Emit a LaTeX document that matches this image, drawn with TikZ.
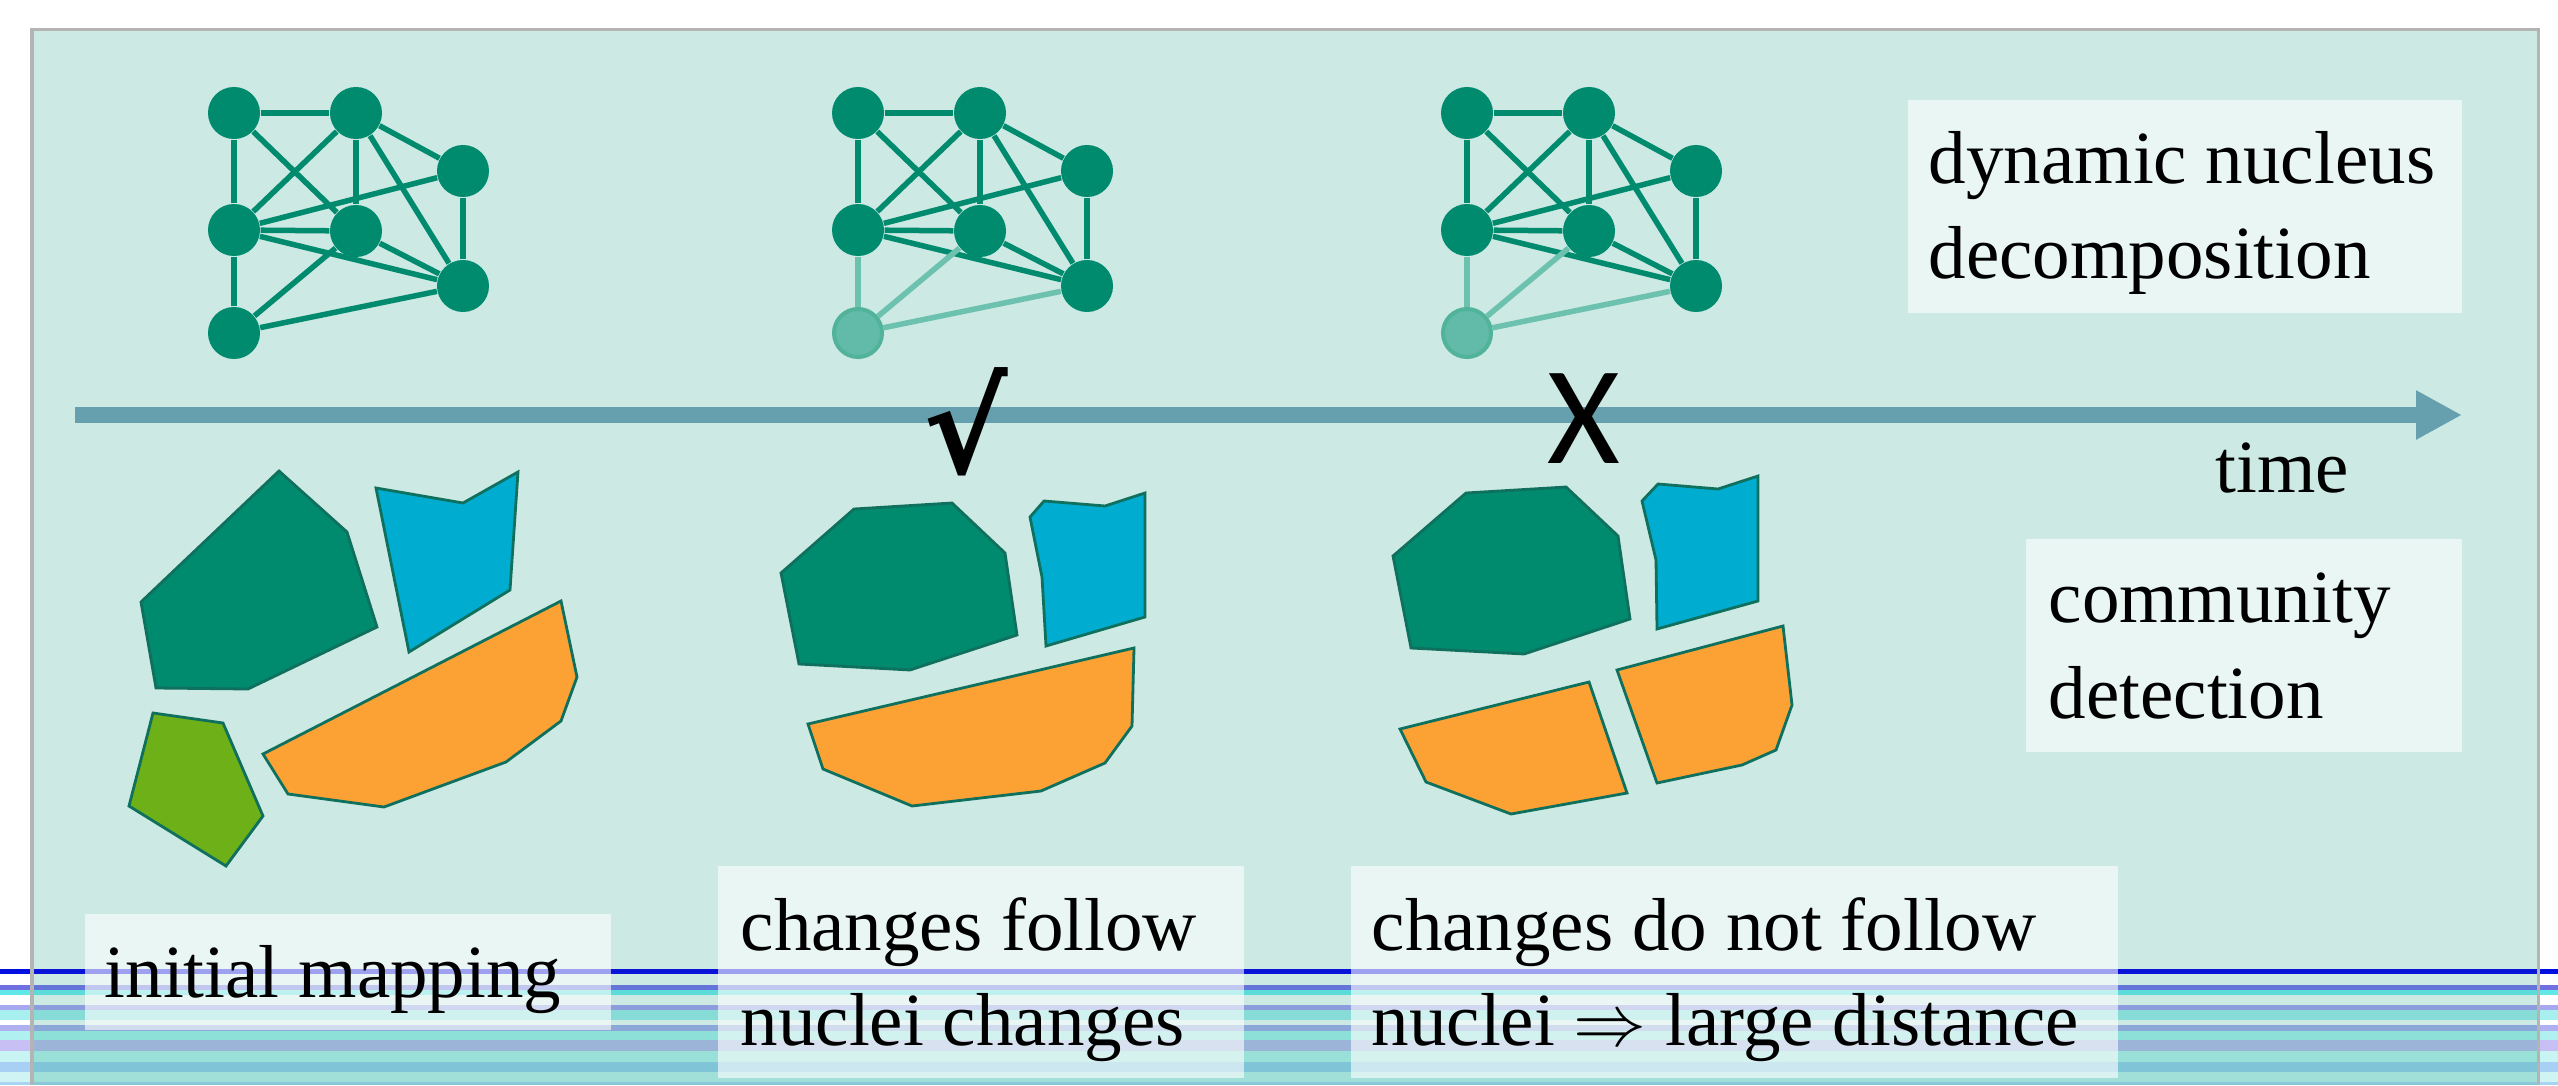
\documentclass[tikz,border=0pt]{standalone}
\usepackage{fontspec}
\setmainfont{Liberation Serif}
\newfontfamily\carlito{Carlito}
\newfontfamily\dejavub{DejaVu Sans Bold}
\usetikzlibrary{arrows.meta}
\definecolor{bg}{HTML}{CCE9E3}
\definecolor{frameg}{HTML}{B4B4B4}
\definecolor{nodeg}{HTML}{008B6E}
\definecolor{fadeg}{HTML}{62BBA8}
\definecolor{fadeb}{HTML}{52B39B}
\definecolor{fadee}{HTML}{6CC2AE}
\definecolor{timec}{HTML}{669FAE}
\definecolor{cdark}{HTML}{008A6E}
\definecolor{cblue}{HTML}{00ACD0}
\definecolor{clight}{HTML}{6EB017}
\definecolor{corange}{HTML}{FCA134}
\definecolor{cedge}{HTML}{10705E}
% stripes: inside / outside colours
\definecolor{sai}{HTML}{0A14D8}\definecolor{sao}{HTML}{0010E0}
\definecolor{sbi}{HTML}{6474D8}\definecolor{sbo}{HTML}{7070E0}
\definecolor{sci}{HTML}{5CDCD8}\definecolor{sco}{HTML}{60E8E8}
\definecolor{sdi}{HTML}{8C9CDC}\definecolor{sdo}{HTML}{A8A8F0}
\definecolor{sei}{HTML}{88DCD8}\definecolor{seo}{HTML}{A8F0F0}
\definecolor{sfi}{HTML}{8CA8D8}\definecolor{sfo}{HTML}{B0B0F0}
\definecolor{sgi}{HTML}{8CE0D8}\definecolor{sgo}{HTML}{B0F0F0}
\definecolor{shi}{HTML}{9CB4D8}\definecolor{sho}{HTML}{C8C0F4}
\definecolor{sii}{HTML}{98E0D8}\definecolor{sio}{HTML}{C8F4F4}
\definecolor{sji}{HTML}{80C4D8}\definecolor{sjo}{HTML}{A8D0F4}
\definecolor{ski}{HTML}{A0E0D8}\definecolor{sko}{HTML}{D0F4F4}
\definecolor{sli}{HTML}{88C8D8}\definecolor{slo}{HTML}{A8D4F4}
\tikzset{
  gn/.style={circle, fill=nodeg, minimum size=0.52cm, inner sep=0pt},
  gnfade/.style={circle, fill=fadeg, draw=fadeb, line width=0.04cm, minimum size=0.48cm, inner sep=0pt},
  ge/.style={draw=nodeg, line width=0.055cm},
  gefade/.style={draw=fadee, line width=0.055cm},
  comm/.style={draw=cedge, line width=0.028cm, line join=miter},
  txtbox/.style={fill=white, fill opacity=0.6, text opacity=1, inner sep=0pt, draw=none},
  lbl/.style={anchor=base west, inner sep=0pt, font=\fontsize{21.34}{27}\selectfont},
  timeline/.style={draw=timec, line width=0.16cm, -{Triangle[length=0.46cm,width=0.46cm]}}
}
\begin{document}
\begin{tikzpicture}[x=0.01cm,y=-0.01cm]
\useasboundingbox (0,0) rectangle (2558,1085);
% frame background
\fill[bg] (32,30) rectangle (2538,1085);
% stripes
\foreach \ya/\yb/\ci/\co in {969/974/sai/sao, 985/990/sbi/sbo, 990/995/sci/sco,
  1005/1010/sdi/sdo, 1010/1020/sei/seo, 1025/1031/sfi/sfo, 1031/1040/sgi/sgo,
  1040/1051/shi/sho, 1051/1062/sii/sio, 1062/1072/sji/sjo, 1072/1082/ski/sko,
  1082/1085/sli/slo}{
  \fill[\co] (0,\ya) rectangle (32,\yb);
  \fill[\co] (2538,\ya) rectangle (2558,\yb);
  \fill[\ci] (32,\ya) rectangle (2538,\yb);
}
% frame border
\draw[frameg, line width=0.03cm] (32,1085) -- (32,30) -- (2538,30) -- (2538,1085);

% graphs
\foreach \i/\ox in {1/0,2/624,3/1233}{
  \node[gn] (g\i a) at (234+\ox,113) {};
  \node[gn] (g\i b) at (356+\ox,113) {};
  \node[gn] (g\i c) at (463+\ox,171) {};
  \node[gn] (g\i d) at (234+\ox,230) {};
  \node[gn] (g\i e) at (356+\ox,231) {};
  \node[gn] (g\i f) at (463+\ox,286) {};
}
\node[gn] (g1g) at (234,333) {};
\node[gnfade] (g2g) at (858,333) {};
\node[gnfade] (g3g) at (1467,333) {};
\foreach \i in {1,2,3}{
  \foreach \u/\v in {a/b,a/d,a/e,b/d,b/e,b/c,b/f,c/d,c/f,d/e,d/f,e/f}{
    \draw[ge] (g\i\u) -- (g\i\v);
  }
}
\draw[ge] (g1d) -- (g1g);
\draw[ge] (g1e) -- (g1g);
\draw[ge] (g1g) -- (g1f);
\foreach \i in {2,3}{
  \draw[gefade] (g\i d) -- (g\i g);
  \draw[gefade] (g\i e) -- (g\i g);
  \draw[gefade] (g\i g) -- (g\i f);
}

% time axis
\coordinate (tstart) at (75,415);
\coordinate (tend) at (2462,415);
\draw[timeline] (tstart) -- (tend);

% communities, group 1
\draw[comm, fill=cdark] (279,471) -- (347,532) -- (377,627) -- (248,689) -- (156,688) -- (141,602) -- cycle;
\draw[comm, fill=cblue] (376,488) -- (463,503) -- (518,472) -- (510,590) -- (409,652) -- cycle;
\draw[comm, fill=clight] (153,713) -- (223,723) -- (263,816) -- (226,866) -- (129,806) -- cycle;
\draw[comm, fill=corange] (561,601) -- (577,677) -- (561,721) -- (506,762) -- (384,807) -- (288,794) -- (263,754) -- cycle;
% group 2
\draw[comm, fill=cdark] (854,509) -- (952,503) -- (1005,553) -- (1017,635) -- (910,670) -- (799,664) -- (781,573) -- cycle;
\draw[comm, fill=cblue] (1044,501) -- (1105,506) -- (1145,493) -- (1145,617) -- (1046,646) -- (1042,577) -- (1030,517) -- cycle;
\draw[comm, fill=corange] (808,724) -- (1134,648) -- (1132,726) -- (1105,763) -- (1041,791) -- (912,806) -- (823,769) -- cycle;
% group 3
\draw[comm, fill=cdark] (1466,493) -- (1566,487) -- (1618,536) -- (1630,619) -- (1524,654) -- (1411,648) -- (1393,556) -- cycle;
\draw[comm, fill=cblue] (1658,484) -- (1718,489) -- (1758,476) -- (1758,601) -- (1657,629) -- (1656,560) -- (1642,501) -- cycle;
\draw[comm, fill=corange] (1400,729) -- (1589,682) -- (1627,793) -- (1511,814) -- (1426,782) -- cycle;
\draw[comm, fill=corange] (1617,670) -- (1783,626) -- (1792,705) -- (1776,750) -- (1742,765) -- (1657,783) -- cycle;

% marks
\node[inner sep=0pt, anchor=center, font=\dejavub\fontsize{36}{36}\selectfont] (chk) at (966,422) {√};
\node[inner sep=0pt, anchor=base, font=\carlito\fontsize{39.8}{40}\selectfont] (xmk) at (1584,463) {X};

% text boxes
\node[txtbox, minimum width=5.54cm, minimum height=2.13cm] (bdyn) at (2185,206.5) {};
\node[txtbox, minimum width=4.36cm, minimum height=2.13cm] (bcom) at (2244,645.5) {};
\node[txtbox, minimum width=5.26cm, minimum height=1.16cm] (bini) at (348,972) {};
\node[txtbox, minimum width=5.26cm, minimum height=2.12cm] (bfol) at (981,972) {};
\node[txtbox, minimum width=7.67cm, minimum height=2.12cm] (bnfo) at (1734.5,972) {};

% texts
\node[lbl] (t1) at (1928,184) {dynamic nucleus};
\node[lbl] (t2) at (1928,278) {decomposition};
\node[lbl] (t3) at (2215,492) {time};
\node[lbl] (t4) at (2048,622) {community};
\node[lbl] (t5) at (2048,718) {detection};
\node[lbl] (t6) at (104,997) {initial mapping};
\node[lbl] (t7) at (740,950) {changes follow};
\node[lbl] (t8) at (740,1045) {nuclei changes};
\node[lbl] (t9) at (1371,950) {changes do not follow};
\node[lbl] (t10) at (1371,1045) {nuclei $\Rightarrow$ large distance};
\end{tikzpicture}
\end{document}
